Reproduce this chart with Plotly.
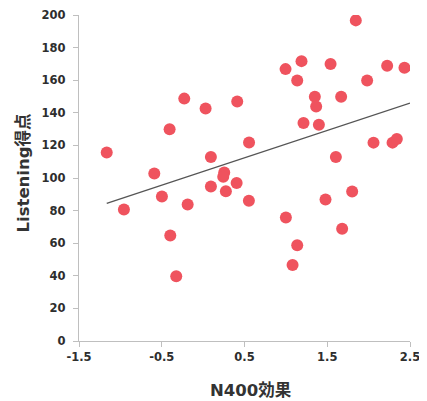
import plotly.graph_objects as go

n400 = [-1.165, -0.957, -0.59, -0.498, -0.405, -0.397, -0.325, -0.228, -0.187, 0.030,
        0.094, 0.094, 0.255, 0.243, 0.405, 0.275, 0.553, 0.412, 0.555, 1.845,
        1.189, 0.996, 1.540, 1.137, 2.224, 2.433, 1.982, 1.350, 1.668, 1.366,
        1.213, 1.399, 2.059, 2.289, 2.341, 1.604, 1.801, 1.479, 1.0, 1.68,
        1.137, 1.081]
listening = [115.7, 80.7, 102.8, 88.7, 129.9, 64.7, 39.7, 148.7, 83.8, 142.6,
             112.9, 94.8, 103.4, 100.7, 97, 91.9, 86, 146.9, 121.8, 196.7,
             171.7, 166.8, 169.9, 159.8, 168.8, 167.6, 159.8, 149.8, 149.8, 143.8,
             133.8, 132.7, 121.7, 121.7, 123.9, 112.9, 91.7, 86.8, 75.8, 68.8,
             58.7, 46.6]

trend_x = [-1.165, 2.5]
trend_y = [84.4, 145.9]

x_ticks = [-1.5, -0.5, 0.5, 1.5, 2.5]
y_ticks = [0, 20, 40, 60, 80, 100, 120, 140, 160, 180, 200]

x_title = "N400効果"
y_title = "Listening得点"

font_family = "DejaVu Sans, Noto Sans CJK JP, sans-serif"

fig = go.Figure()
fig.add_trace(go.Scatter(
    x=n400, y=listening, mode="markers",
    marker=dict(size=12, color="#EF535E", line=dict(width=0)),
    showlegend=False, hoverinfo="x+y"))
fig.add_trace(go.Scatter(
    x=trend_x, y=trend_y, mode="lines",
    line=dict(color="#555555", width=1.3),
    showlegend=False, hoverinfo="skip"))

# page body has an 8px default margin, so the figure is shifted by 8px
fig.update_layout(
    width=419, height=393, autosize=False,
    margin=dict(l=71, r=17, t=7, b=60),
    paper_bgcolor="white", plot_bgcolor="white",
    font=dict(family=font_family, color="#333333"),
    xaxis=dict(
        range=[-1.5, 2.5], tickvals=x_ticks, ticktext=[str(v) for v in x_ticks],
        automargin=False, ticklabeloverflow="allow",
        showgrid=False, zeroline=False, showline=True, linecolor="#BFBFBF", linewidth=1.3,
        ticks="outside", ticklen=5, tickcolor="#BFBFBF",
        tickfont=dict(size=11.5, family=font_family, color="#2E2E2E", weight="bold"),
    ),
    yaxis=dict(
        range=[0, 200], tickvals=y_ticks, automargin=False, ticklabeloverflow="allow",
        showgrid=False, zeroline=False, showline=True, linecolor="#BFBFBF", linewidth=1.3,
        ticks="outside", ticklen=5, tickcolor="#BFBFBF", ticklabelstandoff=5,
        tickfont=dict(size=11.5, family=font_family, color="#2E2E2E", weight="bold"),
    ),
    annotations=[
        dict(text="<b>" + x_title + "</b>", xref="paper", yref="paper",
             x=0.521, y=-0.153, xanchor="center", yanchor="middle", showarrow=False,
             font=dict(size=16.5, color="#333333", family=font_family)),
        dict(text="<b>" + y_title + "</b>", xref="paper", yref="paper",
             x=-0.169, y=0.514, xanchor="center", yanchor="middle", showarrow=False,
             textangle=-90,
             font=dict(size=16.5, color="#333333", family=font_family)),
    ],
)

fig.write_html("out.html")
